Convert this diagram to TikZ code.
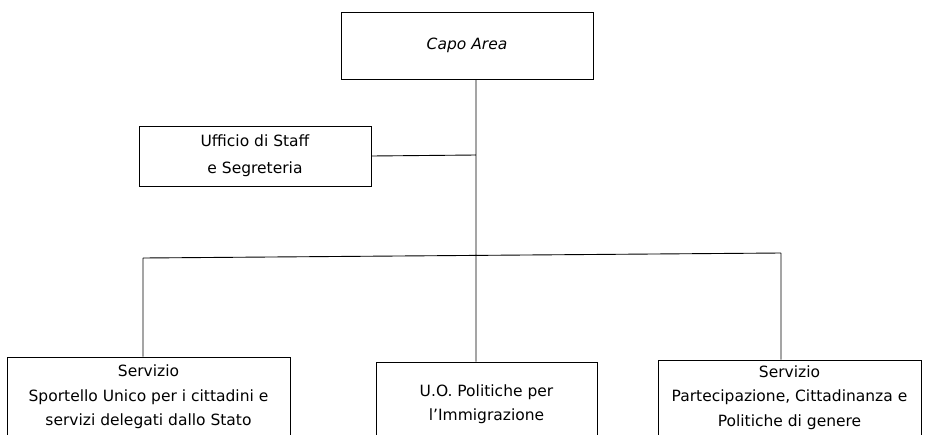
\documentclass[tikz,border=0pt]{standalone}
\usepackage{fontspec}
\setmainfont{DejaVu Sans}
\usepackage{tikz}

\begin{document}
\begin{tikzpicture}[x=1pt,y=-1pt,line width=1pt,
    box/.style={draw,rectangle,align=center,inner sep=0pt,font=\fontsize{15.5}{24.5}\selectfont},
    link/.style={draw,line width=0.9pt}]
    \clip (0,0) rectangle (926,434);
    \node[box, minimum width=252pt, minimum height=67pt, font=\fontsize{15.5}{24.5}\selectfont\itshape] (capo) at (467,45.5) {Capo Area};
    \node[box, minimum width=232pt, minimum height=60pt, font=\fontsize{15.5}{27}\selectfont] (staff) at (255,156) {Ufficio di Staff\\e Segreteria};
    \node[box, minimum width=283pt, minimum height=80pt] (sportello) at (148.5,397) {Servizio\\Sportello Unico per i cittadini e\\servizi delegati dallo Stato};
    \node[box, minimum width=221pt, minimum height=84pt] (immigrazione) at (486.5,404) {U.O. Politiche per\\l'Immigrazione};
    \node[box, minimum width=263pt, minimum height=75pt] (partecipazione) at (789.5,397.5) {Servizio\\Partecipazione, Cittadinanza e\\Politiche di genere};
    \coordinate (trunk) at (476,155);
    \coordinate (busL) at (143,258);
    \coordinate (busR) at (781,253);
    \path[link]
    (capo.south -| trunk) -- (immigrazione.north -| trunk)
    (staff.east) -- (trunk)
    (busL) -- (busR)
    (busL) -- (sportello.north -| busL)
    (busR) -- (partecipazione.north -| busR);
\end{tikzpicture}
\end{document}
